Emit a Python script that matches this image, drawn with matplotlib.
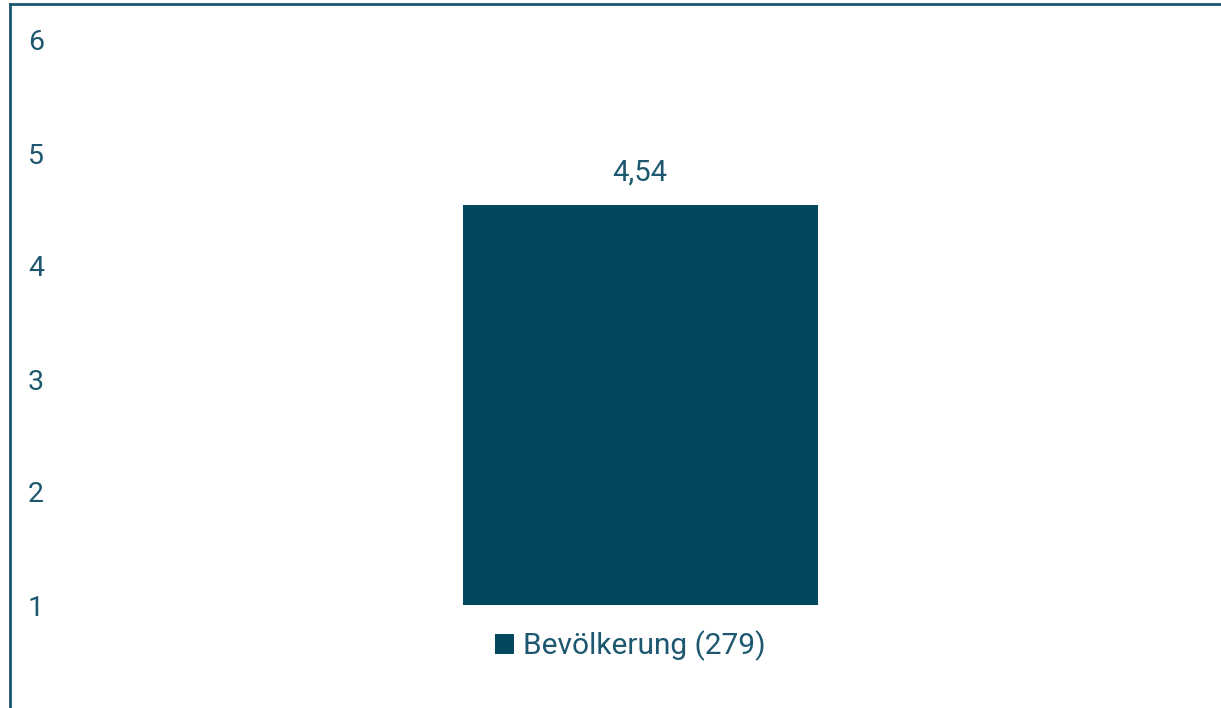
import matplotlib
matplotlib.use("Agg")
import matplotlib.pyplot as plt

categories = ["Bevölkerung (279)"]
values = [4.54]
value_labels = ["4,54"]
yticks = [1, 2, 3, 4, 5, 6]

W, H = 1221, 708
fig = plt.figure(figsize=(W / 100, H / 100), dpi=100)
plt.rcParams['font.family'] = ['Roboto', 'DejaVu Sans']

bar_color = "#03465F"
text_color = "#1E5870"
spine_color = "#1C5570"

ax_left_px, ax_top_px = 10, 4
ax = fig.add_axes([ax_left_px / W, 0, (W - ax_left_px + 5) / W, (H - ax_top_px) / H])

# y mapping: value 1 -> px 605, value 6 -> px 40
ppu = (605 - 40) / 5.0
ymin = 1 - (H - 605) / ppu
ymax = 1 + (605 - ax_top_px) / ppu
ax.set_ylim(ymin, ymax)

bw = 0.6
pxu = 355 / bw
ax.set_xlim(-(640 - ax_left_px) / pxu, (W + 5 - 640) / pxu)

bars = ax.bar([0], [v - 1 for v in values], bottom=1, width=bw, color=bar_color,
              label=categories[0])
for b, lab in zip(bars, value_labels):
    ax.text(b.get_x() + b.get_width() / 2, b.get_y() + b.get_height() + 0.16, lab,
            ha='center', va='bottom', fontsize=21, color=text_color)

ax.set_yticks(yticks)
ax.set_yticklabels([str(t) for t in yticks], fontsize=20.5, color=text_color)
for t in ax.get_yticklabels():
    t.set_horizontalalignment('center')
    t.set_verticalalignment('center_baseline')
ax.tick_params(axis='y', length=0, pad=-26 * 72 / 100)
ax.set_xticks([])

for s in ['right', 'bottom']:
    ax.spines[s].set_visible(False)
for s in ['left', 'top']:
    ax.spines[s].set_color(spine_color)
    ax.spines[s].set_linewidth(2)

leg = ax.legend(loc='center', bbox_to_anchor=(630.5 / W, 1 - 646 / H),
                bbox_transform=fig.transFigure, frameon=False, fontsize=21.5,
                handlelength=0.63, handleheight=0.63, handletextpad=0.3,
                borderpad=0, borderaxespad=0)
for t in leg.get_texts():
    t.set_color(text_color)

fig.savefig("out.png", dpi=100)
